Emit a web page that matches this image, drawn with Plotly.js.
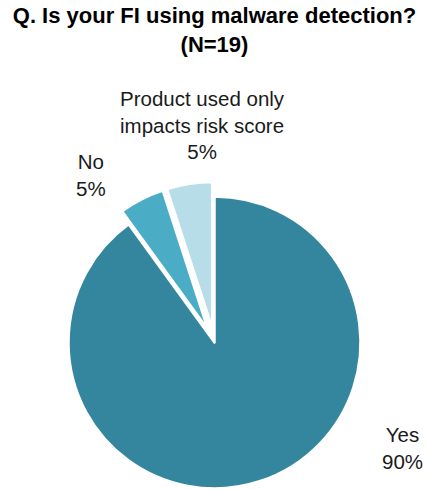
<!DOCTYPE html>
<html>
<head>
<meta charset="utf-8">
<script src="https://cdn.plot.ly/plotly-3.0.1.min.js"></script>
<style>
html, body { margin: 0; padding: 0; overflow: hidden; background: #fff; }
#chart { width: 429px; height: 503px; }
</style>
</head>
<body>
<div id="chart"></div>
<script>
const categories = ["Yes", "No", "Product used only impacts risk score"];
const displayLabels = ["Yes", "No", "Product used only<br>impacts risk score"];
const values = [90, 5, 5];
const pulls = [0, 0.1, 0.1];
const colors = ["#33869D", "#4BACC6", "#B7DEE8"];

const W = 429, H = 503;
const labelPos = [
  {x: 402, y: 448},
  {x: 91, y: 175},
  {x: 202, y: 125}
];

const annotations = categories.map((c, i) => ({
  text: displayLabels[i] + "<br>" + values[i] + "%",
  xref: "paper", yref: "paper",
  x: labelPos[i].x / W, y: 1 - labelPos[i].y / H,
  xanchor: "center", yanchor: "middle",
  showarrow: false, align: "center",
  font: {family: "Liberation Sans, Arial, sans-serif", size: 20.5, color: "#1a1a1a"}
}));

const trace = {
  type: "pie",
  labels: categories,
  values: values,
  sort: false,
  direction: "clockwise",
  rotation: 0,
  pull: pulls,
  marker: {colors: colors, line: {color: "#ffffff", width: 2.5}},
  textinfo: "none",
  hoverinfo: "label+percent",
  showlegend: false,
  domain: {x: [0, 1], y: [0, 321.2 / H]}
};

const layout = {
  width: W, height: H,
  margin: {l: 0, r: 0, t: 0, b: 0},
  paper_bgcolor: "#ffffff",
  showlegend: false,
  title: {
    text: "<b>Q. Is your FI using malware detection?<br>(N=19)</b>",
    font: {family: "Liberation Sans, Arial, sans-serif", size: 22, color: "#000000"},
    x: 0.5, xanchor: "center",
    yref: "container", y: 1 - 23 / H, yanchor: "top"
  },
  annotations: annotations
};

Plotly.newPlot("chart", [trace], layout, {displayModeBar: false, staticPlot: true});
</script>
</body>
</html>
